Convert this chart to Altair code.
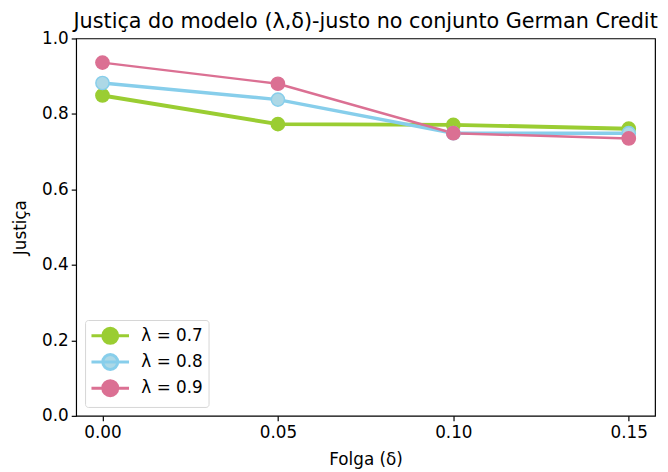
import altair as alt
import pandas as pd

folga = [0.00, 0.05, 0.10, 0.15]
lam07 = [0.849, 0.773, 0.771, 0.761]
lam08 = [0.882, 0.838, 0.749, 0.749]
lam09 = [0.936, 0.880, 0.749, 0.735]
series = ["λ = 0.7", "λ = 0.8", "λ = 0.9"]
line_colors = ["#9acd32", "#87ceeb", "#db7093"]
fill_colors = ["#9acd32", "#add8e6", "#db7093"]
widths = [4, 3.5, 2.5]

rows = []
for s, vals in zip(series, [lam07, lam08, lam09]):
    for x, y in zip(folga, vals):
        rows.append({"folga": x, "justica": y, "serie": s})
df = pd.DataFrame(rows)

FS = 17
axis_common = dict(grid=False, domain=False, tickColor="black", tickSize=5, tickWidth=1.2,
                   labelFont="DejaVu Sans", labelFontSize=FS, labelColor="black",
                   titleFont="DejaVu Sans", titleFontSize=FS, titleFontWeight="normal",
                   titleColor="black")

xenc = alt.X("folga:Q", title="Folga (δ)",
             scale=alt.Scale(domain=[-0.0075, 0.1575], nice=False, zero=False),
             axis=alt.Axis(values=folga, format=".2f", labelPadding=4, titlePadding=11,
                           **axis_common))
yenc = alt.Y("justica:Q", title="Justiça",
             scale=alt.Scale(domain=[0, 1.0], nice=False),
             axis=alt.Axis(values=[0, 0.2, 0.4, 0.6, 0.8, 1.0], format=".1f",
                           labelPadding=3, titlePadding=12, **axis_common))

sym = ("M -1 0 L 3 0 M 1.8 0 A 0.8 0.8 0 1 1 0.2 0 A 0.8 0.8 0 1 1 1.8 0 Z")
leg = alt.Legend(title=None, orient="bottom-left", symbolType=sym,
                 symbolSize=361, symbolStrokeWidth=3,
                 labelFontSize=FS, labelFont="DejaVu Sans", labelOffset=30,
                 labelColor="black", rowPadding=-1.5,
                 padding=5, offset=9, fillColor="white",
                 strokeColor="#d5d5d5", cornerRadius=3)

layers = []
for s, lc, w in zip(series, line_colors, widths):
    layers.append(
        alt.Chart(df).transform_filter(alt.datum.serie == s).mark_line(
            color=lc, strokeWidth=w
        ).encode(x=xenc, y=yenc, order=alt.Order("folga:Q"))
    )

points = alt.Chart(df).mark_point(filled=True, size=180, opacity=1, strokeWidth=1.5).encode(
    x=xenc, y=yenc,
    fill=alt.Fill("serie:N", scale=alt.Scale(domain=series, range=fill_colors), legend=leg),
    stroke=alt.Stroke("serie:N", scale=alt.Scale(domain=series, range=line_colors), legend=leg),
)

chart = alt.layer(*layers, points).properties(
    width=586, height=382,
    title=alt.TitleParams("Justiça do modelo (λ,δ)-justo no conjunto German Credit",
                          fontSize=21, font="DejaVu Sans", fontWeight="normal",
                          color="black", offset=-2),
    autosize=alt.AutoSizeParams(type="none"),
    padding={"left": 69, "top": 28, "right": 5, "bottom": 54},
).configure_view(stroke="black", strokeWidth=1.2)

chart.save("out.html", embed_options={"renderer": "svg", "actions": False})
